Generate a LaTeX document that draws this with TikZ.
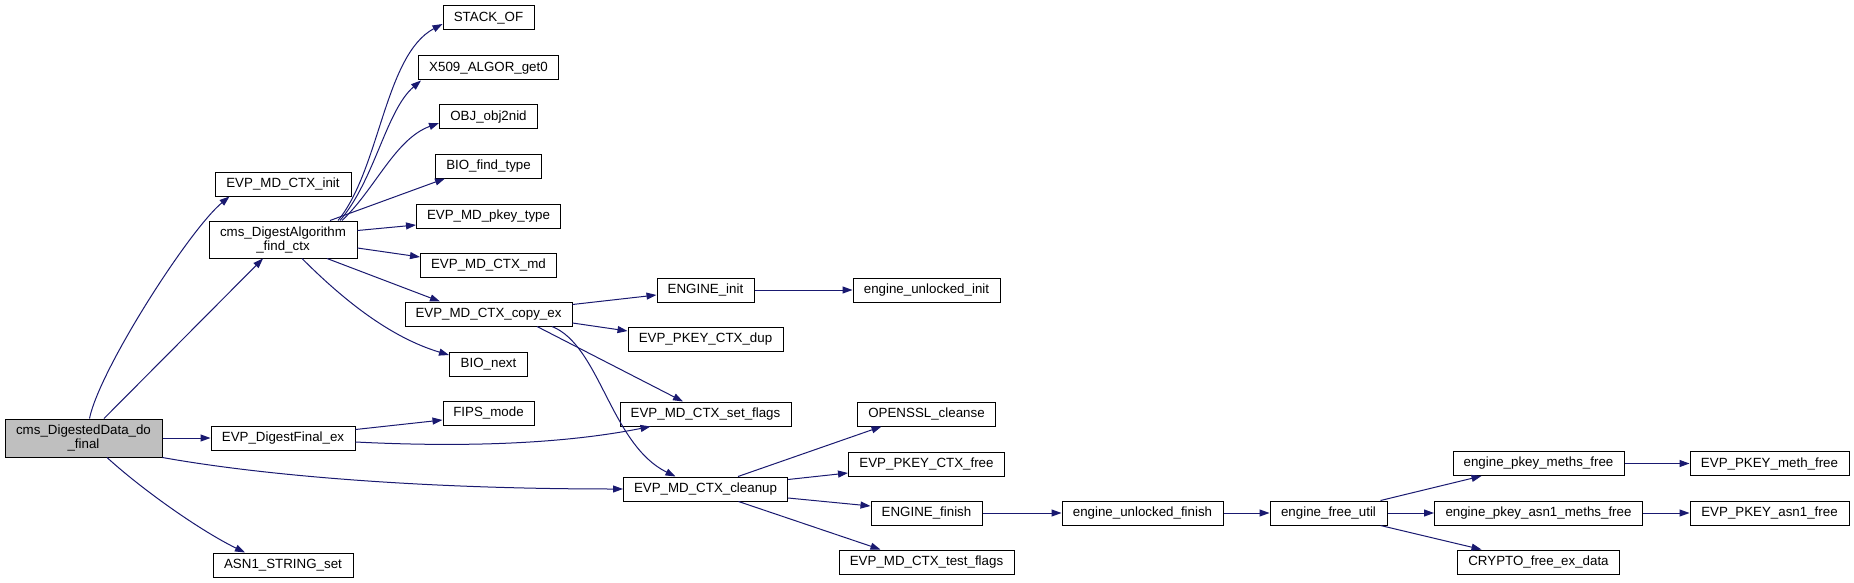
\documentclass[tikz,border=0pt]{standalone}
\usepackage{fontspec}
\setmainfont{Liberation Sans}
\usepackage{tikz}
\usetikzlibrary{arrows.meta}
\definecolor{edgeblue}{RGB}{25,25,112}
\definecolor{rootgray}{RGB}{191,191,191}

\begin{document}
\begin{tikzpicture}[
            x=1pt, y=-1pt,
            func/.style={rectangle, draw, line width=1pt, minimum height=24pt, inner sep=0pt, align=center, font=\fontsize{13.33}{14}\selectfont},
            call/.style={draw=edgeblue, line width=1pt, -{Triangle[length=10pt,width=7pt]}}
        ]
            \path[use as bounding box, fill=white] (0,0) rectangle (1854,583);

            \node[func, fill=rootgray, minimum width=157pt, minimum height=38pt] (dofinal) at (83.5,438) {cms\_DigestedData\_do\\\_final};
            \node[func, minimum width=136pt] (ctxinit) at (283,184) {EVP\_MD\_CTX\_init};
            \node[func, minimum width=148pt, minimum height=37pt] (findctx) at (283,239.5) {cms\_DigestAlgorithm\\\_find\_ctx};
            \node[func, minimum width=144pt] (digestfinal) at (283,438) {EVP\_DigestFinal\_ex};
            \node[func, minimum width=140pt] (asn1set) at (283,565) {ASN1\_STRING\_set};
            \node[func, minimum width=91pt] (stackof) at (488.5,18) {STACK\_OF};
            \node[func, minimum width=140pt] (x509get) at (488.5,68) {X509\_ALGOR\_get0};
            \node[func, minimum width=98pt] (objnid) at (488.5,117) {OBJ\_obj2nid};
            \node[func, minimum width=106pt] (biofind) at (488.5,166) {BIO\_find\_type};
            \node[func, minimum width=144pt] (pkeytype) at (488.5,216) {EVP\_MD\_pkey\_type};
            \node[func, minimum width=136pt] (ctxmd) at (488.5,265) {EVP\_MD\_CTX\_md};
            \node[func, minimum width=167pt] (copyex) at (488.5,314) {EVP\_MD\_CTX\_copy\_ex};
            \node[func, minimum width=78pt] (bionext) at (488.5,364) {BIO\_next};
            \node[func, minimum width=91pt] (fipsmode) at (488.5,413) {FIPS\_mode};
            \node[func, minimum width=97pt] (engineinit) at (705.5,290) {ENGINE\_init};
            \node[func, minimum width=155pt] (pkeydup) at (705.5,339.5) {EVP\_PKEY\_CTX\_dup};
            \node[func, minimum width=171pt] (setflags) at (705.5,414) {EVP\_MD\_CTX\_set\_flags};
            \node[func, minimum width=164pt] (cleanup) at (705.5,489) {EVP\_MD\_CTX\_cleanup};
            \node[func, minimum width=147pt] (unlockedinit) at (926.5,290) {engine\_unlocked\_init};
            \node[func, minimum width=138pt] (cleanse) at (926.5,414) {OPENSSL\_cleanse};
            \node[func, minimum width=156pt] (pkeyfree) at (926.5,464) {EVP\_PKEY\_CTX\_free};
            \node[func, minimum width=111pt] (enginefinish) at (926.5,513) {ENGINE\_finish};
            \node[func, minimum width=175pt] (testflags) at (926.5,562) {EVP\_MD\_CTX\_test\_flags};
            \node[func, minimum width=161pt] (unlockedfinish) at (1142.5,513) {engine\_unlocked\_finish};
            \node[func, minimum width=117pt] (freeutil) at (1328.5,513) {engine\_free\_util};
            \node[func, minimum width=171pt] (pkeymeths) at (1538.5,463.5) {engine\_pkey\_meths\_free};
            \node[func, minimum width=208pt] (asn1meths) at (1538.5,513) {engine\_pkey\_asn1\_meths\_free};
            \node[func, minimum width=162pt] (cryptofree) at (1538.5,562) {CRYPTO\_free\_ex\_data};
            \node[func, minimum width=159pt] (methfree) at (1769.5,463.5) {EVP\_PKEY\_meth\_free};
            \node[func, minimum width=159pt] (asn1free) at (1769.5,513) {EVP\_PKEY\_asn1\_free};

            \draw[call] ([xshift=6pt]dofinal.north) .. controls +(10,-49) and +(-40,33) .. ([xshift=15pt]ctxinit.south west);
            \draw[call] ([xshift=20.5pt]dofinal.north) -- ([xshift=-20pt]findctx.south);
            \draw[call] (dofinal) -- (digestfinal);
            \draw[call] (dofinal.south east) .. controls +(100,18) and +(-200,0) .. (cleanup.west);
            \draw[call] ([xshift=23.5pt]dofinal.south) .. controls +(35,32) and +(-45,-22) .. ([xshift=-38pt]asn1set.north);

            \draw[call] ([xshift=55pt]findctx.north) .. controls +(42,-51) and +(-58,31) .. ([yshift=-6pt]stackof.west);
            \draw[call] ([xshift=57pt]findctx.north) .. controls +(35,-41) and +(-35,30) .. ([xshift=3pt]x509get.south west);
            \draw[call] ([xshift=59pt]findctx.north) .. controls +(33,-31) and +(-44,16) .. ([yshift=-6pt]objnid.west);
            \draw[call] ([xshift=47pt]findctx.north) -- ([xshift=10pt]biofind.south west);
            \draw[call] ([yshift=9pt]findctx.east) -- ([yshift=-9pt]pkeytype.west);
            \draw[call] ([yshift=-8.5pt]findctx.east) -- ([yshift=8pt]ctxmd.west);
            \draw[call] ([xshift=44pt]findctx.south) -- ([xshift=-48.5pt]copyex.north);
            \draw[call] ([xshift=19pt]findctx.south) .. controls +(40,40) and +(-60,-18) .. ([yshift=9pt]bionext.west);

            \draw[call] ([yshift=9.5pt]copyex.east) -- ([yshift=-5pt]engineinit.west);
            \draw[call] ([yshift=-9pt]copyex.east) -- ([yshift=8.5pt]pkeydup.west);
            \draw[call] ([xshift=48.5pt]copyex.south) -- ([xshift=-22.5pt]setflags.north);
            \draw[call] ([xshift=63.5pt]copyex.south) .. controls +(48,19) and +(-65,-32) .. ([xshift=-30pt]cleanup.north);

            \draw[call] ([yshift=8.5pt]digestfinal.east) -- ([yshift=-7pt]fipsmode.west);
            \draw[call] ([yshift=-4pt]digestfinal.east) .. controls +(120,6) and +(-80,16) .. ([xshift=-55pt]setflags.south);

            \draw[call] (engineinit) -- (unlockedinit);

            \draw[call] ([xshift=32.5pt]cleanup.north) -- ([xshift=-45pt]cleanse.south);
            \draw[call] ([yshift=9.5pt]cleanup.east) -- ([yshift=-9pt]pkeyfree.west);
            \draw[call] ([yshift=-9pt]cleanup.east) -- ([yshift=7pt]enginefinish.west);
            \draw[call] ([xshift=33pt]cleanup.south) -- ([xshift=-46pt]testflags.north);

            \draw[call] (enginefinish) -- (unlockedfinish);
            \draw[call] (unlockedfinish) -- (freeutil);
            \draw[call] ([xshift=52pt]freeutil.north) -- ([xshift=-57pt]pkeymeths.south);
            \draw[call] (freeutil) -- (asn1meths);
            \draw[call] ([xshift=52pt]freeutil.south) -- ([xshift=-57pt]cryptofree.north);
            \draw[call] (pkeymeths) -- (methfree);
            \draw[call] (asn1meths) -- (asn1free);
        \end{tikzpicture}
\end{document}
